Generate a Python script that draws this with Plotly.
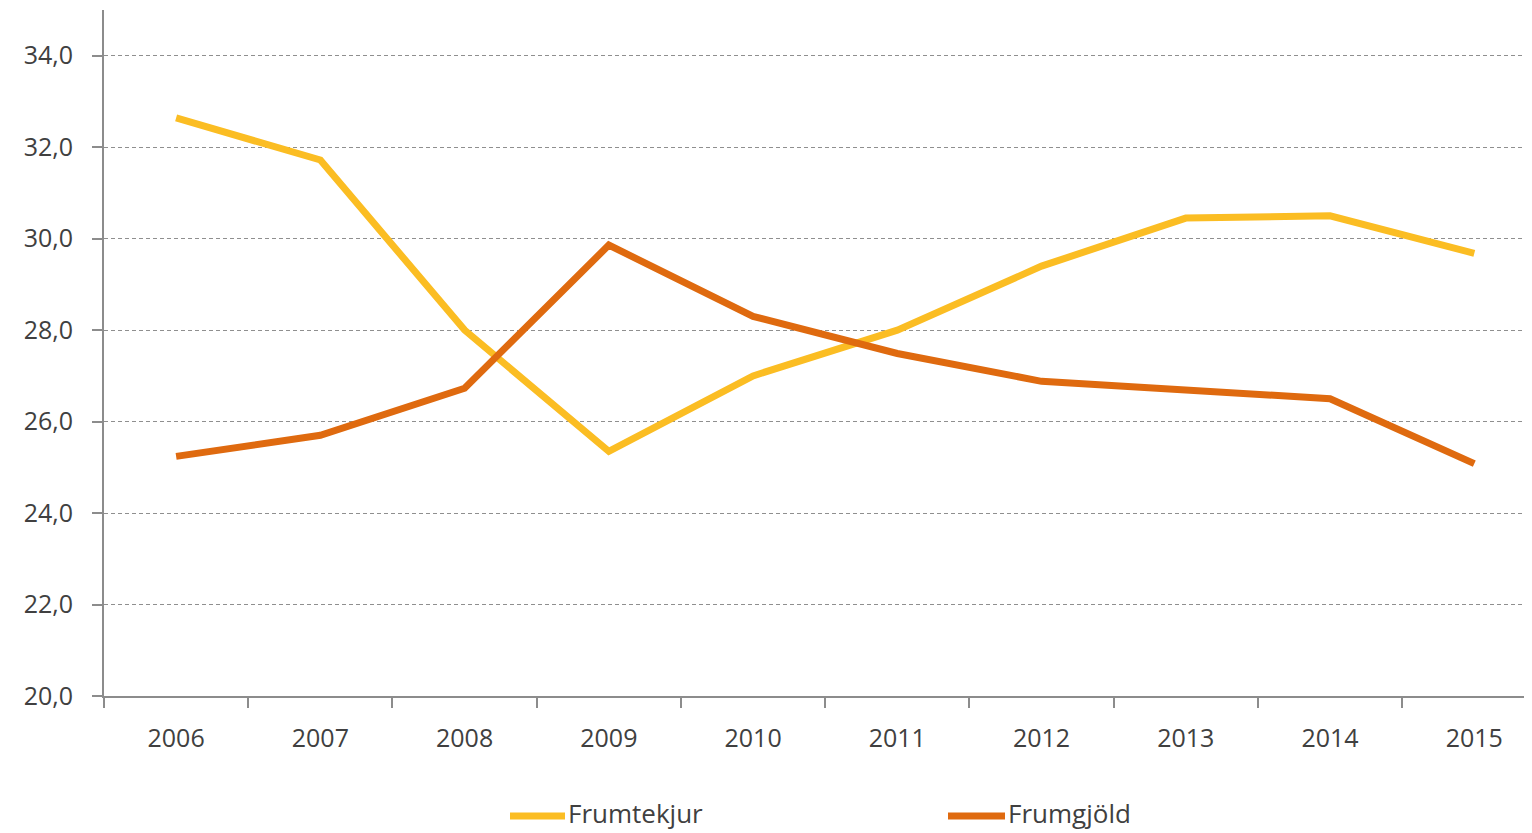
import plotly.graph_objects as go

years = ["2006", "2007", "2008", "2009", "2010", "2011", "2012", "2013", "2014", "2015"]
frumtekjur = [32.64, 31.72, 28.0, 25.35, 27.0, 28.0, 29.4, 30.45, 30.5, 29.68]
frumgjold = [25.24, 25.7, 26.73, 29.86, 28.3, 27.49, 26.88, 26.68, 26.5, 25.08]
series_names = ["Frumtekjur", "Frumgjöld"]
colors = ["#FBBD23", "#DF6A0F"]

OFF = 8  # page body margin
W, H = 1532 - OFF, 833 - OFF
L, R, T = 103 - OFF + 1, 0, 10 - OFF
ph_target = 686
B = H - T - ph_target
FONT = "Open Sans"
TXT = "#404040"

fig = go.Figure()
for name, vals, c in zip(series_names, [frumtekjur, frumgjold], colors):
    fig.add_trace(go.Scatter(x=years, y=vals, name=name, mode="lines",
                             line=dict(color=c, width=7), showlegend=False))

pw = W - L - R
ph = H - T - B
def px2x(px):
    return (px - OFF - L) / pw
def py2y(py):
    return (T + ph + OFF - py) / ph

# legend drawn manually
leg = [(510, 565, 566), (948, 1005, 1006)]
for (x0, x1, tx), name, c in zip(leg, series_names, colors):
    fig.add_shape(type="line", xref="paper", yref="paper",
                  x0=px2x(x0), x1=px2x(x1), y0=py2y(816), y1=py2y(816),
                  line=dict(color=c, width=7), layer="above")
    fig.add_annotation(xref="paper", yref="paper", x=px2x(tx), y=py2y(813),
                       text=name, showarrow=False, xanchor="left", yanchor="middle",
                       font=dict(family=FONT, size=26, color=TXT))

fig.update_layout(
    width=W, height=H,
    margin=dict(l=L, r=R, t=T, b=B, pad=0),
    paper_bgcolor="white", plot_bgcolor="white",
    separators=",.",
    font=dict(family=FONT, size=25, color=TXT),
    xaxis=dict(type="category", range=[-0.5, 9.4], showgrid=False,
               showline=True, linecolor="#8c8c8c", linewidth=2,
               ticks="outside", tickson="boundaries", ticklen=10, tickwidth=1.5,
               tickcolor="#8c8c8c", ticklabelstandoff=19,
               tickfont=dict(family=FONT, size=25, color=TXT), zeroline=False),
    yaxis=dict(range=[20, 35], tick0=20, dtick=2, tickformat=".1f",
               showline=True, linecolor="#8c8c8c", linewidth=2,
               ticks="outside", ticklen=10, tickwidth=1.5, tickcolor="#8c8c8c",
               showgrid=True, gridcolor="#8f8f8f", gridwidth=1, griddash="4px,3px",
               ticklabelstandoff=14, zeroline=False,
               tickfont=dict(family=FONT, size=25, color=TXT)),
)

fig.write_html("out.html")
